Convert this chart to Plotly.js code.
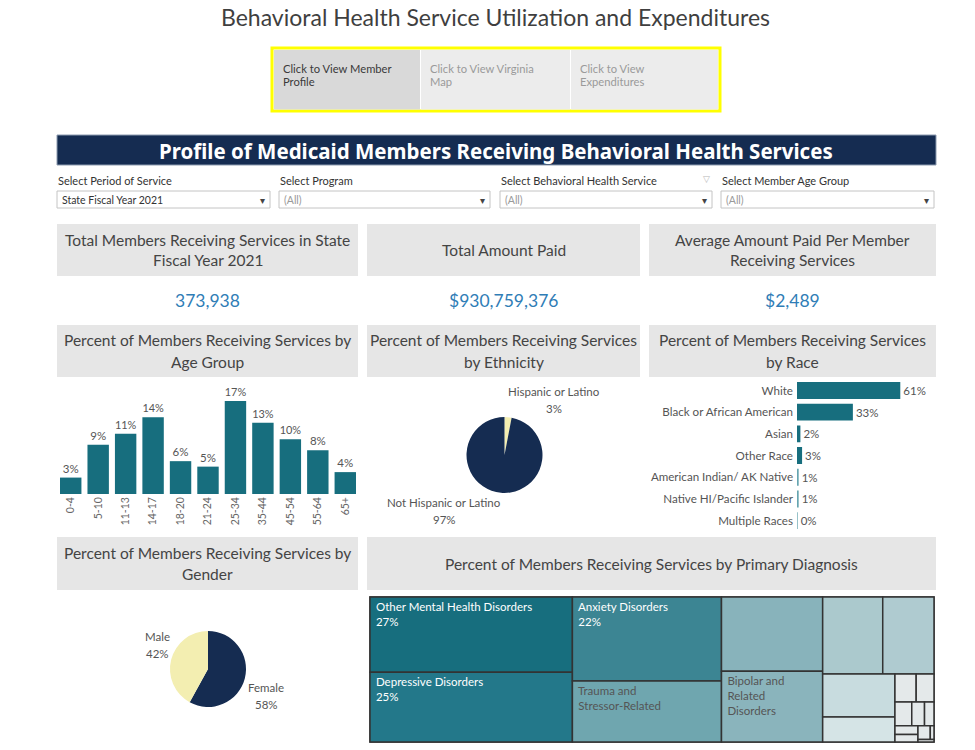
<!DOCTYPE html>
<html>
<head>
<meta charset="utf-8">
<script src="https://cdn.plot.ly/plotly-3.0.1.min.js"></script>
<style>
html,body{margin:0;padding:0;background:#fff;}
#chart{width:975px;height:750px;}
</style>
</head>
<body>
<div id="chart"></div>
<script>
// ---------------- DATA ----------------
const dashTitle = 'Behavioral Health Service Utilization and Expenditures';
const bannerTitle = 'Profile of Medicaid Members Receiving Behavioral Health Services';
const navButtons = [['Click to View Member','Profile'],['Click to View Virginia','Map'],['Click to View','Expenditures']];
const filterLabels = ['Select Period of Service','Select Program','Select Behavioral Health Service','Select Member Age Group'];
const filterValues = ['State Fiscal Year 2021','(All)','(All)','(All)'];

const kpiTitles = [['Total Members Receiving Services in State','Fiscal Year 2021'],['Total Amount Paid'],['Average Amount Paid Per Member','Receiving Services']];
const kpiValues = ['373,938','$930,759,376','$2,489'];

const sectionTitles = [
  ['Percent of Members Receiving Services by','Age Group'],
  ['Percent of Members Receiving Services','by Ethnicity'],
  ['Percent of Members Receiving Services','by Race'],
  ['Percent of Members Receiving Services by','Gender'],
  ['Percent of Members Receiving Services by Primary Diagnosis']
];

const ageGroups = ['0-4','5-10','11-13','14-17','18-20','21-24','25-34','35-44','45-54','55-64','65+'];
const agePct = [3,9,11,14,6,5,17,13,10,8,4];

const raceCats = ['White','Black or African American','Asian','Other Race','American Indian/ AK Native','Native HI/Pacific Islander','Multiple Races'];
const racePct = [61,33,2,3,1,1,0.4];

const ethnicityLabels = ['Hispanic or Latino','Not Hispanic or Latino'];
const ethnicityPct = [3,97];

const genderLabels = ['Female','Male'];
const genderPct = [58,42];

const diagLabels = ['Other Mental Health Disorders','Depressive Disorders','Anxiety Disorders','Trauma and Stressor-Related',
  'Diagnosis group 5','Bipolar and Related Disorders','Diagnosis group 7','Diagnosis group 8','Diagnosis group 9','Diagnosis group 10',
  'Diagnosis group 11','Diagnosis group 12','Diagnosis group 13','Diagnosis group 14','Diagnosis group 15','Diagnosis group 16',
  'Diagnosis group 17','Diagnosis group 18','Diagnosis group 19','Diagnosis group 20'];
const diagPct = [27,25,22.2,16.1,13.3,12.7,8.2,7.0,5.5,3.2,1.05,0.88,0.71,0.54,0.40,0.35,0.31,0.30,0.09,0.07];
const diagShownText = ['Other Mental Health Disorders','Depressive Disorders','Anxiety Disorders','Trauma and<br>Stressor-Related',
  '','Bipolar and<br>Related<br>Disorders','','','','','','','','','','','','','',''];
const diagShowPct = [true,true,true,false,false,false,false,false,false,false,false,false,false,false,false,false,false,false,false,false];

// ---------------- STYLE / HELPERS ----------------
const W = 975, H = 750;
const px = x => x / W;
const py = y => 1 - y / H;
const FONT = 'Lato, "Noto Sans", sans-serif';
const TEAL = '#176e7e';
const NAVY = '#152c51';
const CREAM = '#f3eeb1';
const BOXGRAY = '#e6e6e6';

const shapes = [];
const annotations = [];
function rect(x0, y0, x1, y1, fill, line, lw) {
  shapes.push({type:'rect', xref:'paper', yref:'paper', x0:px(x0), x1:px(x1), y0:py(y1), y1:py(y0),
    fillcolor: fill, line:{color: line || 'rgba(0,0,0,0)', width: lw || 0}, layer:'below'});
}
function txt(x, y, text, size, color, opts) {
  opts = opts || {};
  annotations.push({xref:'paper', yref:'paper', x:px(x), y:py(y), text:text, showarrow:false,
    xanchor: opts.xanchor || 'center', yanchor:'middle',
    font:{family: opts.family || FONT, size:size, color:color, weight: opts.weight || 'normal'}});
}

// Title
txt(495, 17, dashTitle, 23, '#3f3f3f');

// Navigation buttons
rect(272, 48, 720, 111, 'rgba(0,0,0,0)', '#ffff00', 3);
const btnX = [[274, 420], [421, 570], [571, 718]];
const btnFill = ['#d9d9d9', '#ececec', '#ececec'];
const btnColor = ['#3a3a3a', '#9a9a9a', '#9a9a9a'];
btnX.forEach((b, i) => {
  rect(b[0], 50, b[1], 109.5, btnFill[i]);
  txt(b[0] + 7, 68, navButtons[i][0], 11.2, btnColor[i], {xanchor:'left'});
  txt(b[0] + 7, 82, navButtons[i][1], 11.2, btnColor[i], {xanchor:'left'});
});

// Banner
rect(57, 135, 936, 165, NAVY, '#8d9bb0', 1);
txt(496, 150.5, bannerTitle, 20.5, '#ffffff', {weight:'bold', family:'"Noto Sans", Lato, sans-serif'});

// Filters
const filterX = [[57, 270], [279, 490], [500, 712], [721, 934]];
filterX.forEach((f, i) => {
  txt(f[0] - 1, 180, filterLabels[i], 11, '#333333', {xanchor:'left'});
  rect(f[0], 191, f[1], 208, '#ffffff', '#c4c4c4', 1);
  txt(f[0] + 3, 199.5, filterValues[i], 10.5, i === 0 ? '#333333' : '#9a9a9a', {xanchor:'left'});
  txt(f[1] - 8, 199.5, '▾', 10, '#444444');
});
txt(706, 178, '▽', 9, '#b8b8b8');

// Header boxes
const col = [[57, 358], [367, 640], [649, 936]];
function headerBox(x0, x1, y0, y1, lines) {
  rect(x0, y0, x1, y1, BOXGRAY);
  const cy = (y0 + y1) / 2;
  if (lines.length === 1) txt((x0 + x1) / 2, cy, lines[0], 15.5, '#444444');
  else {
    txt((x0 + x1) / 2, cy - 10.5, lines[0], 15.5, '#444444');
    txt((x0 + x1) / 2, cy + 10.5, lines[1], 15.5, '#444444');
  }
}
col.forEach((c, i) => {
  headerBox(c[0], c[1], 224, 276, kpiTitles[i]);
  txt((c[0] + c[1]) / 2, 300, kpiValues[i], 17.5, '#2f7db6');
  headerBox(c[0], c[1], 325, 377, sectionTitles[i]);
});
headerBox(57, 358, 537, 590, sectionTitles[3]);
headerBox(367, 936, 537, 590, sectionTitles[4]);

// Pie labels
function twoLine(x, y, a, b, size) {
  txt(x, y - 8.5, a, size, '#555555');
  txt(x, y + 8.5, b, size, '#555555');
}
twoLine(554, 399.5, ethnicityLabels[0], ethnicityPct[0] + '%', 11.5);
twoLine(444, 511, ethnicityLabels[1], ethnicityPct[1] + '%', 11.5);
twoLine(157, 644.5, genderLabels[1], genderPct[1] + '%', 11.5);
twoLine(266, 696, genderLabels[0], genderPct[0] + '%', 11.5);

// ---------------- TRACES ----------------
const raceColors = racePct.map(v => v >= 2 ? TEAL : '#66a5b0');
const raceTrace = {
  type:'bar', orientation:'h', x: racePct, y: raceCats, xaxis:'x', yaxis:'y',
  marker:{color: raceColors, line:{width:0}},
  texttemplate:'%{x:.0f}%', textposition:'outside', cliponaxis:false,
  textfont:{family:FONT, size:11.5, color:'#555555'}, hoverinfo:'skip'
};

const ageTrace = {
  type:'bar', x: ageGroups, y: agePct, xaxis:'x2', yaxis:'y2',
  marker:{color: TEAL, line:{width:0}},
  texttemplate:'%{y}%', textposition:'outside', cliponaxis:false,
  textfont:{family:FONT, size:11.5, color:'#555555'}, hoverinfo:'skip'
};

const ethPie = {
  type:'pie', labels: ethnicityLabels, values: ethnicityPct, sort:false, direction:'clockwise', rotation:0,
  marker:{colors:[CREAM, NAVY], line:{width:0}}, textinfo:'none', hoverinfo:'skip',
  domain:{x:[px(466.5), px(542.5)], y:[py(493), py(417)]}, showlegend:false
};
const genPie = {
  type:'pie', labels: genderLabels, values: genderPct, sort:false, direction:'clockwise', rotation:0,
  marker:{colors:[NAVY, CREAM], line:{width:0}}, textinfo:'none', hoverinfo:'skip',
  domain:{x:[px(170), px(246)], y:[py(707.5), py(630.5)]}, showlegend:false
};

const diagColors = ['#176e7e','#23788a','#3c8593','#6fa6af','#88b3bb','#8ab4bc','#abc9cd','#afcbd0','#c8dcdf','#d5e4e6',
  '#e4e9ea','#e4e9ea','#e4e9ea','#e4e9ea','#e4e9ea','#e4e9ea','#e4e9ea','#e4e9ea','#e4e9ea','#e4e9ea'];
const diagTextColors = diagPct.map((v, i) => i < 3 ? '#ffffff' : '#555555');
const treeLabels = ['All diagnoses'].concat(diagLabels);
const treeParents = [''].concat(diagLabels.map(() => 'All diagnoses'));
const treeValues = [0].concat(diagPct);
const treeText = [''].concat(diagShownText.map((t, i) => {
  if (!t) return '';
  const s = diagShowPct[i] ? t + '<br>' + Math.round(diagPct[i]) + '%' : t;
  return s.split('<br>').map(l => '&nbsp;' + l).join('<br>');
}));
const treemap = {
  type:'treemap', labels: treeLabels, parents: treeParents, values: treeValues, branchvalues:'remainder',
  text: treeText, texttemplate:'%{text}', textposition:'top left',
  textfont:{family:FONT, size:11.5, color:['#ffffff'].concat(diagTextColors)},
  marker:{colors:['rgba(0,0,0,0)'].concat(diagColors), line:{color:'#333333', width:1.5}, pad:{t:0,l:0,r:0,b:0}},
  tiling:{packing:'squarify', squarifyratio:1.618, pad:0},
  pathbar:{visible:false}, sort:true, hoverinfo:'skip',
  domain:{x:[px(370), px(934)], y:[py(742), py(597)]}
};

const layout = {
  width: W, height: H, margin:{l:0, r:0, t:0, b:0},
  paper_bgcolor:'#ffffff', plot_bgcolor:'rgba(0,0,0,0)',
  showlegend:false, bargap:0.22,
  font:{family:FONT, color:'#555555'},
  xaxis:{domain:[px(797), px(935)], range:[0, 81.5], visible:false, fixedrange:true},
  yaxis:{domain:[py(531.5), py(379.6)], autorange:'reversed', showgrid:false, zeroline:false, showline:false,
    ticks:'', ticklabelstandoff:3, tickfont:{family:FONT, size:11.6, color:'#555555'}, fixedrange:true},
  xaxis2:{domain:[px(57), px(359)], anchor:'y2', showgrid:false, zeroline:false, showline:false, ticks:'',
    tickangle:-90, tickfont:{family:FONT, size:10.5, color:'#666666'}, fixedrange:true},
  yaxis2:{domain:[py(494), py(390)], anchor:'x2', range:[0, 19], visible:false, fixedrange:true},
  shapes: shapes, annotations: annotations
};

Plotly.newPlot('chart', [raceTrace, ageTrace, ethPie, genPie, treemap], layout, {displayModeBar:false, staticPlot:true});
</script>
</body>
</html>
